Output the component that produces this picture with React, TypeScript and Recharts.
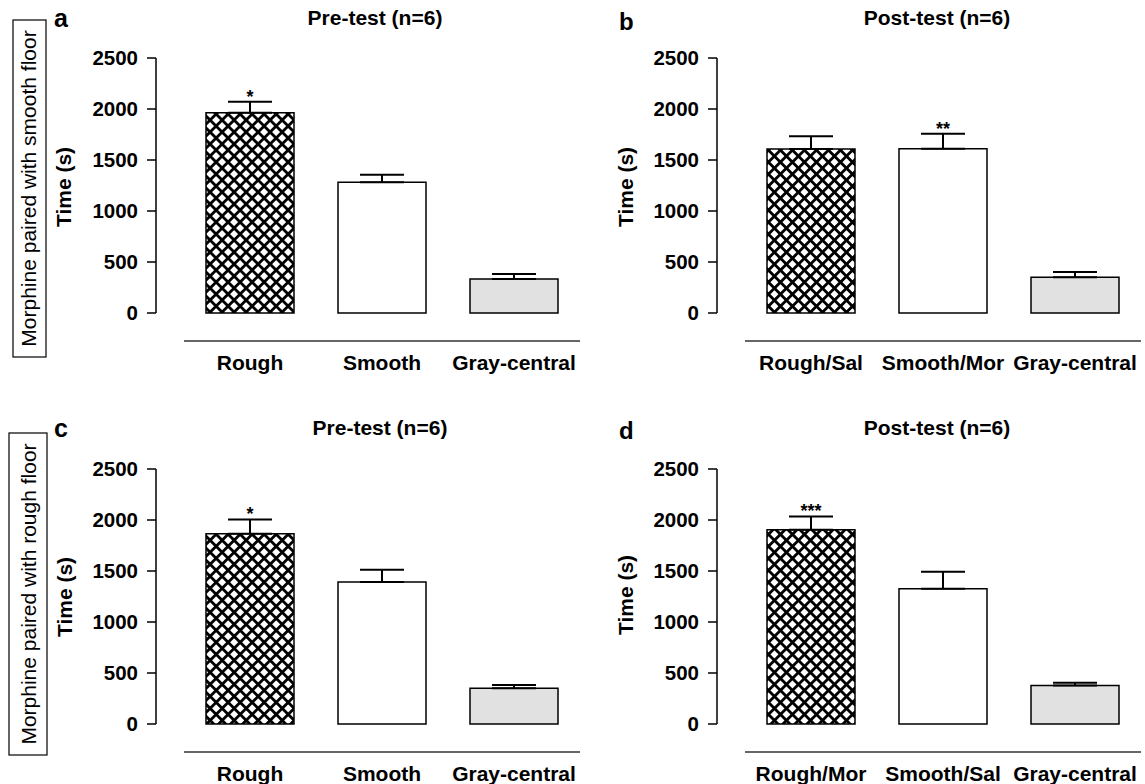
import { ComposedChart, Bar, Cell, XAxis, YAxis, ErrorBar, Scatter } from 'recharts'

const yTicks = [0, 500, 1000, 1500, 2000, 2500]

const catsPre = ['Rough', 'Smooth', 'Gray-central']
const catsPostB = ['Rough/Sal', 'Smooth/Mor', 'Gray-central']
const catsPostD = ['Rough/Mor', 'Smooth/Sal', 'Gray-central']

const meansA = [1964, 1281, 333]
const errA = [107, 75, 49]
const sigA = ['*', '', '']

const meansB = [1608, 1611, 350]
const errB = [124, 147, 52]
const sigB = ['', '**', '']

const meansC = [1865, 1391, 350]
const errC = [140, 121, 33]
const sigC = ['*', '', '']

const meansD = [1904, 1325, 376]
const errD = [131, 167, 29]
const sigD = ['***', '', '']

const W = 1145
const H = 784
const XH = 40
const font = "'Liberation Sans', Arial, Helvetica, sans-serif"
const fills = ['hatch', '#ffffff', '#e1e1e1']

interface Box {
  axisX: number
  yTop: number
  y0: number
  lineY: number
  plotL: number
  plotR: number
  barSize: number
}

interface PanelProps {
  id: string
  cats: string[]
  means: number[]
  errs: number[]
  sigs: string[]
  box: Box
}

function Panel({ id, cats, means, errs, sigs, box }: PanelProps) {
  const data = cats.map((c, i) => ({
    cat: c,
    mean: means[i],
    errRange: [0, errs[i]],
    top: means[i] + errs[i],
    sig: sigs[i]
  }))

  return (
    <>
      {/* y axis, drawn on its own so it can sit left of the category axis */}
      <div style={{ position: 'absolute', left: 0, top: 0 }}>
        <ComposedChart
          width={W}
          height={H}
          data={data}
          margin={{ left: box.axisX - 60, right: W - box.axisX - 4, top: box.yTop, bottom: H - box.y0 }}
        >
          <XAxis dataKey="cat" hide />
          <YAxis
            width={60}
            type="number"
            domain={[0, 2500]}
            ticks={yTicks}
            interval={0}
            tickSize={9}
            tickMargin={9}
            axisLine={{ stroke: '#000', strokeWidth: 1.5 }}
            tickLine={{ stroke: '#000', strokeWidth: 1.5 }}
            tick={{ fill: '#000', fontSize: 20.5, fontWeight: 'bold', fontFamily: font }}
          />
          <Bar dataKey="mean" fill="none" isAnimationActive={false} />
        </ComposedChart>
      </div>

      {/* bars + category axis */}
      <div style={{ position: 'absolute', left: 0, top: 0 }}>
        <ComposedChart
          width={W}
          height={H}
          data={data}
          barCategoryGap={0}
          margin={{ left: box.plotL, right: W - box.plotR, top: box.yTop, bottom: H - box.lineY - XH }}
        >
          <defs>
            <pattern id={id} patternUnits="userSpaceOnUse" width="8.49" height="8.49" patternTransform="rotate(45)">
              <rect width="8.49" height="8.49" fill="#fff" />
              <path d="M0,4.245 H8.49 M4.245,0 V8.49" stroke="#000" strokeWidth={2.8} />
            </pattern>
          </defs>
          <XAxis
            dataKey="cat"
            height={XH}
            interval={0}
            tickLine={false}
            tickSize={6}
            tickMargin={8}
            axisLine={{ stroke: '#333', strokeWidth: 1.5 }}
            tick={{ fill: '#000', fontSize: 21, fontWeight: 'bold', fontFamily: font }}
          />
          <YAxis hide width={0} type="number" domain={[-275, 2500]} />
          <Bar dataKey="mean" barSize={box.barSize} stroke="#000" strokeWidth={1.5} isAnimationActive={false}>
            {data.map((d, i) => (
              <Cell key={`cell-${d.cat}`} fill={i === 0 ? `url(#${id})` : fills[i]} />
            ))}
            <ErrorBar dataKey="errRange" width={box.barSize / 4} stroke="#000" strokeWidth={2} direction="y" isAnimationActive={false} />
          </Bar>
          <Scatter
            dataKey="top"
            isAnimationActive={false}
            shape={(p: any) =>
              p.payload.sig ? (
                <text x={p.cx} y={p.cy + 1} textAnchor="middle" fontSize={18} fontWeight="bold" fontFamily={font} fill="#000">
                  {p.payload.sig}
                </text>
              ) : (
                <g />
              )
            }
          />
        </ComposedChart>
      </div>
    </>
  )
}

const boxA: Box = { axisX: 156, yTop: 58, y0: 313, lineY: 341, plotL: 184, plotR: 580, barSize: 88 }
const boxB: Box = { axisX: 717, yTop: 58, y0: 313, lineY: 341, plotL: 745, plotR: 1141, barSize: 88 }
const boxC: Box = { axisX: 156, yTop: 469, y0: 724, lineY: 752, plotL: 184, plotR: 580, barSize: 88 }
const boxD: Box = { axisX: 717, yTop: 469, y0: 724, lineY: 752, plotL: 745, plotR: 1141, barSize: 88 }

export default function App() {
  const bold = { fontFamily: font, fontWeight: 'bold' as const, fill: '#000' }
  return (
    <div style={{ position: 'absolute', left: 0, top: 0, width: W, height: H, background: '#fff' }}>
      <Panel id="hatch-a" cats={catsPre} means={meansA} errs={errA} sigs={sigA} box={boxA} />
      <Panel id="hatch-b" cats={catsPostB} means={meansB} errs={errB} sigs={sigB} box={boxB} />
      <Panel id="hatch-c" cats={catsPre} means={meansC} errs={errC} sigs={sigC} box={boxC} />
      <Panel id="hatch-d" cats={catsPostD} means={meansD} errs={errD} sigs={sigD} box={boxD} />

      <svg width={W} height={H} style={{ position: 'absolute', left: 0, top: 0, pointerEvents: 'none' }}>
        {/* panel letters */}
        <text x={54} y={27} fontSize={25} {...bold}>a</text>
        <text x={619} y={30} fontSize={24} {...bold}>b</text>
        <text x={54} y={437} fontSize={25} {...bold}>c</text>
        <text x={619} y={439} fontSize={24} {...bold}>d</text>

        {/* titles */}
        <text x={375} y={25} fontSize={21} textAnchor="middle" {...bold}>Pre-test (n=6)</text>
        <text x={937} y={25} fontSize={21} textAnchor="middle" {...bold}>Post-test (n=6)</text>
        <text x={380} y={435} fontSize={21} textAnchor="middle" {...bold}>Pre-test (n=6)</text>
        <text x={937} y={435} fontSize={21} textAnchor="middle" {...bold}>Post-test (n=6)</text>

        {/* y axis titles */}
        <text transform="translate(71,187) rotate(-90)" fontSize={21} textAnchor="middle" {...bold}>Time (s)</text>
        <text transform="translate(633,187) rotate(-90)" fontSize={21} textAnchor="middle" {...bold}>Time (s)</text>
        <text transform="translate(72,597) rotate(-90)" fontSize={21} textAnchor="middle" {...bold}>Time (s)</text>
        <text transform="translate(633,595) rotate(-90)" fontSize={21} textAnchor="middle" {...bold}>Time (s)</text>

        {/* row labels */}
        <rect x={13} y={20} width={33} height={337} fill="none" stroke="#000" strokeWidth={1.2} />
        <text transform="translate(36,188.5) rotate(-90)" fontSize={21} textAnchor="middle" fontFamily={font} fill="#000">
          Morphine paired with smooth floor
        </text>
        <rect x={9} y={433} width={38} height={322} fill="none" stroke="#000" strokeWidth={1.2} />
        <text transform="translate(36,594) rotate(-90)" fontSize={21} textAnchor="middle" fontFamily={font} fill="#000">
          Morphine paired with rough floor
        </text>
      </svg>
    </div>
  )
}
